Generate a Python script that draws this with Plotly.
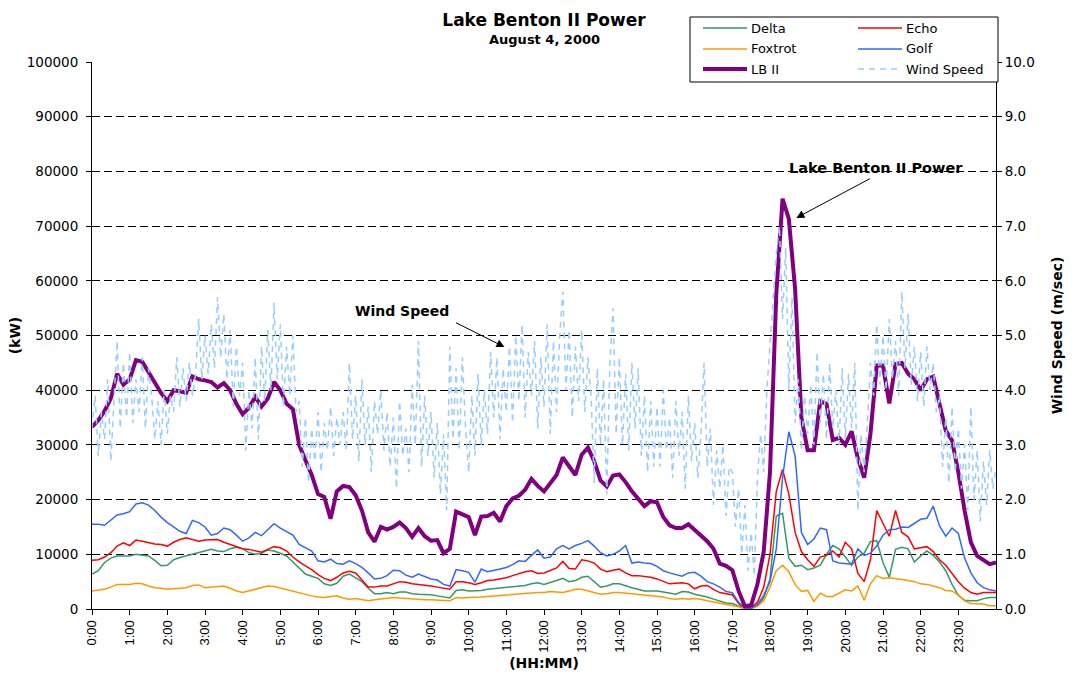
import plotly.graph_objects as go

# ---------------- data ----------------
minutes_10 = list(range(0, 1441, 10))   # power series sampled every 10 min
minutes_5 = list(range(0, 1441, 5))     # wind speed sampled every 5 min
hours_10 = [m / 60 for m in minutes_10]
hours_5 = [m / 60 for m in minutes_5]

hour_labels = ["0:00", "1:00", "2:00", "3:00", "4:00", "5:00", "6:00", "7:00",
               "8:00", "9:00", "10:00", "11:00", "12:00", "13:00", "14:00", "15:00",
               "16:00", "17:00", "18:00", "19:00", "20:00", "21:00", "22:00", "23:00"]
hour_ticks = list(range(24))

delta_kw = [
    6400, 7000, 8500, 9300, 9700, 9700,
    9700, 10000, 9900, 9700, 8900, 7900,
    8000, 9000, 9400, 9700, 10000, 10300,
    10500, 10900, 10600, 10500, 11000, 11300,
    11000, 10300, 10000, 10200, 10800, 10600,
    10200, 9700, 8600, 7500, 6400, 6000,
    5600, 4600, 4300, 4700, 6000, 6400,
    5700, 5000, 3800, 2800, 2800, 3000,
    2800, 3100, 3100, 2800, 2700, 2700,
    2600, 2400, 2200, 2000, 3400, 3500,
    3300, 3300, 3400, 3600, 3700, 3800,
    3900, 4000, 4200, 4300, 4600, 4800,
    4500, 4800, 5200, 5600, 5000, 5200,
    5800, 6000, 5000, 4000, 4200, 4600,
    4600, 4200, 3900, 3600, 3300, 3300,
    3300, 3100, 2900, 2700, 3200, 3100,
    2700, 2500, 2200, 1800, 1400, 1100,
    1000, 600, 100, 200, 600, 2000,
    5500, 17000, 17500, 9300, 7800, 8000,
    7200, 7500, 8000, 10000, 11600, 11000,
    9500, 8000, 9500, 10200, 12300, 12500,
    8500, 5800, 10900, 11300, 11000, 8600,
    9700, 10600, 9800, 8600, 7000, 4500,
    2500, 1600, 1500, 1500, 1900, 2100,
    2100]

echo_kw = [
    8900, 9000, 9500, 10300, 11500, 12100,
    11600, 12600, 12400, 12100, 11900, 11800,
    11500, 12200, 12700, 13000, 12700, 12400,
    12600, 12700, 12700, 12200, 11800, 11500,
    11000, 10900, 10600, 10400, 10900, 11400,
    11200, 10600, 9500, 8600, 7900, 7200,
    6300, 5600, 5200, 5800, 6600, 6900,
    6600, 5200, 4000, 4000, 4200, 4200,
    4600, 5000, 4900, 4600, 4500, 4400,
    4200, 4000, 3800, 3600, 5000, 5000,
    4800, 4500, 4800, 5200, 5300, 5500,
    5700, 6100, 6500, 6800, 7000, 6500,
    6600, 7000, 7500, 8700, 7400, 7300,
    9000, 8800, 8400, 7300, 6800, 7100,
    7300, 6600, 6100, 6100, 6000, 5800,
    5500, 5000, 4600, 4700, 4800, 4600,
    3700, 4200, 4300, 3600, 3000, 2800,
    2600, 1000, 100, 300, 1200, 4000,
    10000, 21500, 25500, 21000, 14000, 10500,
    9000, 7800, 9500, 9800, 10600, 9500,
    12200, 11000, 6500, 5000, 9000, 18000,
    15500, 13300, 18000, 14000, 13200, 11000,
    11200, 11400, 10500, 9000, 8000, 6500,
    5000, 3800, 3000, 2700, 3000, 3000,
    3000]

foxtrot_kw = [
    3300, 3500, 3600, 4000, 4500, 4500,
    4500, 4700, 4600, 4200, 3900, 3800,
    3600, 3700, 3800, 3900, 4300, 4400,
    3900, 4000, 4100, 4200, 3800, 3300,
    3000, 3300, 3600, 3900, 4200, 4100,
    3800, 3600, 3300, 3000, 2700, 2400,
    2200, 2100, 2300, 2400, 2000, 1800,
    1900, 1700, 1500, 1700, 1800, 2000,
    2100, 2000, 1900, 1800, 1800, 1700,
    1700, 1600, 1500, 1500, 2100, 2000,
    2100, 2100, 2200, 2300, 2400, 2500,
    2600, 2700, 2800, 2900, 3000, 3000,
    3000, 3200, 3100, 3000, 3300, 3600,
    3600, 3300, 2900, 2700, 2800, 3000,
    3000, 2900, 2700, 2600, 2600, 2400,
    2300, 2200, 1900, 1800, 1900, 1800,
    1900, 1800, 1500, 1300, 1100, 900,
    700, 400, 50, 100, 500, 1500,
    4000, 7000, 8000, 6800, 4500, 3200,
    3400, 1400, 2900, 2300, 2300, 2900,
    3500, 3300, 4200, 1600, 4600, 6100,
    5600, 5700, 5600, 5400, 5200, 5000,
    4600, 4500, 4200, 3900, 3400, 3300,
    2500, 1500, 1000, 900, 900, 600,
    600]

golf_kw = [
    15500, 15500, 15300, 16200, 17200, 17400,
    17800, 19200, 19400, 19000, 18000, 16800,
    15800, 15000, 14200, 13800, 16200, 15800,
    15000, 13500, 13800, 14800, 14500, 13500,
    12400, 13000, 14000, 13400, 14500, 15600,
    14800, 14200, 13500, 11800, 11200, 10600,
    8800, 8600, 9100, 8300, 8200, 8800,
    8300, 7600, 6600, 5500, 5600, 6100,
    7100, 7000, 6200, 5800, 6400, 6000,
    5500, 5300, 4500, 4200, 7200, 7000,
    6700, 4900, 7300, 6800, 7000, 7300,
    7600, 8100, 8800, 8700, 9800, 10800,
    9300, 9500, 11000, 11600, 11000, 11600,
    12000, 12500, 11500, 10300, 9700, 10000,
    10600, 11600, 8400, 8600, 8400, 8300,
    7800, 7000, 6600, 6300, 6000, 6600,
    6700, 6000, 5000, 4600, 4000, 3200,
    3000, 1200, 200, 100, 800, 2500,
    5000, 11000, 24000, 32400, 28000, 14000,
    11800, 12800, 14800, 14500, 8800, 8400,
    8300, 8200, 11000, 9800, 10200, 11500,
    13500, 14500, 14600, 15000, 14900, 15600,
    16400, 16600, 18800, 15200, 13300, 14800,
    13800, 9300, 6600, 4800, 3900, 3500,
    3300]

lb2_kw = [
    33300, 34500, 36200, 38500, 43000, 41000,
    42000, 45500, 45200, 43300, 41700, 39500,
    38000, 40000, 39800, 39500, 42500, 42000,
    41800, 41500, 40500, 41300, 40000, 37500,
    35600, 36800, 38800, 37000, 38500, 41500,
    40000, 37500, 36500, 30000, 27200, 24500,
    21000, 20500, 16500, 21500, 22500, 22300,
    20800, 18000, 14000, 12300, 15000, 14500,
    15000, 15800, 14800, 13200, 14800, 13300,
    12500, 12600, 10200, 11000, 17800, 17300,
    16800, 13500, 16900, 17000, 17600, 16000,
    18800, 20200, 20700, 21800, 23800, 22500,
    21500, 23000, 24500, 27700, 26000, 24500,
    28200, 29500, 27000, 23500, 22400, 24400,
    24600, 23200, 21500, 20000, 18800, 19700,
    19500, 16800, 15300, 14800, 14800, 15500,
    14500, 13300, 12400, 11000, 8300, 7900,
    7100, 3300, 500, 700, 4500, 10500,
    25000, 57500, 75000, 71300, 58500, 35000,
    29000, 29000, 38000, 37500, 30900, 31300,
    30000, 32500, 27500, 24000, 32000, 44500,
    44500, 37600, 44800, 45000, 43000, 42000,
    40000, 42000, 42500, 37500, 32600, 30800,
    25000, 18000, 12200, 9700, 9000, 8200,
    8500]

wind_ms = [
    3.3, 3.9, 2.8, 3.6, 3.1, 4.2, 2.7, 3.8, 4.9, 3.3, 4.5, 3.5,
    4.7, 3.4, 4.2, 3.6, 4.6, 3.3, 4.4, 3.9, 3.1, 3.8, 3.0, 4.0,
    3.2, 3.9, 3.6, 4.6, 3.7, 4.4, 3.8, 4.5, 3.9, 4.3, 5.3, 4.2,
    5.0, 4.3, 5.2, 4.4, 5.7, 4.6, 5.4, 4.2, 5.1, 3.7, 4.8, 3.9,
    4.5, 2.9, 4.0, 3.3, 4.6, 3.1, 4.8, 3.8, 5.1, 4.0, 5.6, 4.2,
    5.2, 3.7, 4.8, 3.9, 5.0, 3.6, 3.8, 2.6, 3.5, 2.3, 3.3, 2.7,
    3.6, 2.5, 3.4, 2.9, 3.7, 2.8, 3.5, 3.0, 3.6, 2.9, 4.5, 3.1,
    3.9, 2.7, 4.2, 3.0, 3.7, 2.5, 3.8, 3.2, 4.0, 2.9, 3.6, 2.6,
    3.5, 2.2, 3.8, 2.8, 3.3, 2.5, 4.1, 3.0, 4.9, 2.6, 3.9, 2.8,
    3.6, 2.4, 3.4, 2.1, 3.2, 1.8, 4.8, 3.1, 4.4, 2.9, 4.6, 3.3,
    2.5, 3.9, 2.8, 4.3, 3.0, 4.0, 3.2, 4.7, 3.5, 4.6, 3.1, 4.4,
    3.6, 4.8, 3.4, 5.0, 3.8, 5.2, 3.5, 4.7, 3.9, 4.9, 3.3, 4.6,
    3.7, 5.2, 3.2, 4.9, 3.6, 5.0, 5.8, 4.0, 5.1, 3.5, 4.8, 3.8,
    5.1, 3.6, 4.6, 3.9, 2.3, 4.4, 3.0, 4.2, 2.1, 4.5, 5.5, 3.2,
    4.6, 3.0, 4.3, 2.9, 4.5, 3.3, 4.4, 2.8, 3.9, 2.5, 3.8, 2.6,
    3.7, 2.6, 4.0, 2.9, 3.5, 2.4, 3.8, 2.8, 3.6, 2.2, 3.9, 2.7,
    3.4, 2.4, 3.2, 4.5, 2.6, 3.3, 1.9, 2.9, 2.2, 3.0, 1.7, 2.6,
    2.5, 1.5, 2.2, 1.0, 1.9, 0.7, 1.4, 0.6, 2.4, 3.2, 2.5, 4.0,
    4.9, 5.8, 6.5, 7.0, 5.3, 6.6, 4.0, 5.7, 3.4, 4.2, 2.9, 3.9,
    3.2, 4.1, 3.0, 4.7, 3.4, 4.3, 3.1, 4.5, 3.3, 4.0, 3.0, 4.4,
    3.1, 4.3, 3.3, 4.5, 1.8, 3.2, 2.5, 3.4, 4.5, 3.9, 5.2, 4.1,
    5.0, 4.0, 5.3, 4.2, 4.9, 3.9, 5.8, 4.4, 5.4, 4.1, 4.8, 3.8,
    4.7, 3.7, 4.8, 4.0, 4.5, 3.6, 3.9, 2.6, 3.5, 2.3, 3.7, 2.5,
    3.3, 2.2, 3.0, 1.8, 3.7, 2.0, 2.9, 1.6, 2.7, 1.9, 2.9, 2.2,
    2.6]

power_ticks = [0, 10000, 20000, 30000, 40000, 50000, 60000, 70000, 80000, 90000, 100000]

# ---------------- styling ----------------
FONT = "Liberation Sans, Arial, sans-serif"
WIDE = "DejaVu Sans, Liberation Sans, sans-serif"
COLORS = {"Delta": "#339966", "Echo": "#FF0000", "Foxtrot": "#FF9900",
          "Golf": "#3366FF", "LB II": "#800080", "Wind Speed": "#99CCFF"}
WIND_DASH = "6px,5px"

fig = go.Figure()
power_series = [("Delta", delta_kw, 1.5), ("Echo", echo_kw, 1.5),
                ("Foxtrot", foxtrot_kw, 1.5), ("Golf", golf_kw, 1.5),
                ("LB II", lb2_kw, 4)]
for name, vals, w in power_series:
    fig.add_trace(go.Scatter(x=hours_10, y=vals, name=name, mode="lines",
                             line=dict(color=COLORS[name], width=w)))
fig.add_trace(go.Scatter(x=hours_5, y=wind_ms, name="Wind Speed", mode="lines",
                         yaxis="y2",
                         line=dict(color=COLORS["Wind Speed"], width=1.5, dash=WIND_DASH)))

W, H = 1072, 674
PL, PR, PT, PB = 92, 996, 62, 609


def pxx(px):
    return (px - PL) / (PR - PL)


def pxy(py):
    return (PB - py) / (PB - PT)


# ---- manual two-column legend (box, line samples, labels) ----
shapes = [dict(type="rect", xref="paper", yref="paper",
               x0=pxx(690), x1=pxx(998), y0=pxy(82), y1=pxy(17),
               line=dict(color="black", width=1), fillcolor="white", layer="above")]
annotations = []
legend_layout = [("Delta", 0, 0), ("Echo", 1, 0), ("Foxtrot", 0, 1),
                 ("Golf", 1, 1), ("LB II", 0, 2), ("Wind Speed", 1, 2)]
col_x = [703, 858]
row_y = [28, 49, 69]
for name, c, r in legend_layout:
    width = 4 if name == "LB II" else 1.5
    dash = WIND_DASH if name == "Wind Speed" else "solid"
    shapes.append(dict(type="line", xref="paper", yref="paper",
                       x0=pxx(col_x[c]), x1=pxx(col_x[c] + 44),
                       y0=pxy(row_y[r]), y1=pxy(row_y[r]),
                       line=dict(color=COLORS[name], width=width, dash=dash),
                       layer="above"))
    annotations.append(dict(text=name, xref="paper", yref="paper",
                            x=pxx(col_x[c] + 46), y=pxy(row_y[r]),
                            xanchor="left", yanchor="middle", showarrow=False,
                            font=dict(size=13, family=WIDE, color="black")))

# ---- subtitle ----
annotations.append(dict(text="<b>August 4, 2000</b>", xref="paper", yref="paper",
                        x=0.5, y=pxy(40), xanchor="center", yanchor="middle",
                        showarrow=False, font=dict(size=13, family=WIDE, color="black")))

# ---- callouts ----
annotations += [
    dict(text="<b>Wind Speed</b>", xref="x", yref="y", x=8.22, y=54500,
         showarrow=False, font=dict(size=14, family=WIDE, color="black")),
    dict(text="", xref="x", yref="y", x=10.95, y=47900, ax=-50, ay=-25,
         showarrow=True, arrowhead=2, arrowsize=1.6, arrowwidth=1, arrowcolor="black"),
    dict(text="<b>Lake Benton II Power</b>", xref="x", yref="y", x=20.82, y=80600,
         showarrow=False, font=dict(size=14.5, family=WIDE, color="black")),
    dict(text="", xref="x", yref="y", x=18.70, y=71500, ax=75, ay=-40,
         showarrow=True, arrowhead=2, arrowsize=1.6, arrowwidth=1, arrowcolor="black"),
]

axis_common = dict(showline=True, linecolor="black", linewidth=1, ticks="outside",
                   ticklen=5, tickcolor="black", tickwidth=1, zeroline=False,
                   automargin=False)

fig.update_layout(
    width=W, height=H,
    margin=dict(l=PL, r=W - PR, t=PT, b=H - PB, pad=0),
    paper_bgcolor="white", plot_bgcolor="white",
    showlegend=False,
    font=dict(family=FONT, size=13, color="black"),
    title=dict(text="<b>Lake Benton II Power</b>",
               x=0.5, xref="paper", xanchor="center",
               y=1 - 20 / H, yref="container", yanchor="middle",
               font=dict(size=17, family=WIDE, color="black")),
    xaxis=dict(range=[0, 24], tickvals=hour_ticks, ticktext=hour_labels, tickangle=-90,
               tickfont=dict(size=13, family=FONT), showgrid=False,
               title=dict(text="<b>(HH:MM)</b>", font=dict(size=14, family=WIDE), standoff=6),
               **axis_common),
    yaxis=dict(range=[0, 100000], tickvals=power_ticks, tickformat="d",
               tickfont=dict(size=13.5, family=WIDE), showgrid=True, gridcolor="black",
               gridwidth=1, griddash="8px,4px", ticklabelstandoff=5,
               title=dict(text="<b>(kW)</b>", font=dict(size=14, family=WIDE), standoff=2),
               **axis_common),
    yaxis2=dict(range=[0, 10], dtick=1, tick0=0, tickformat=".1f", overlaying="y",
                side="right", showgrid=False, tickfont=dict(size=13.5, family=WIDE),
                title=dict(text="<b>Wind Speed (m/sec)</b>", font=dict(size=14, family=WIDE),
                           standoff=18),
                **axis_common),
    shapes=shapes,
    annotations=annotations,
)

fig.write_html("out.html", config={"displayModeBar": False},
               post_script="document.body.style.margin='0';")
